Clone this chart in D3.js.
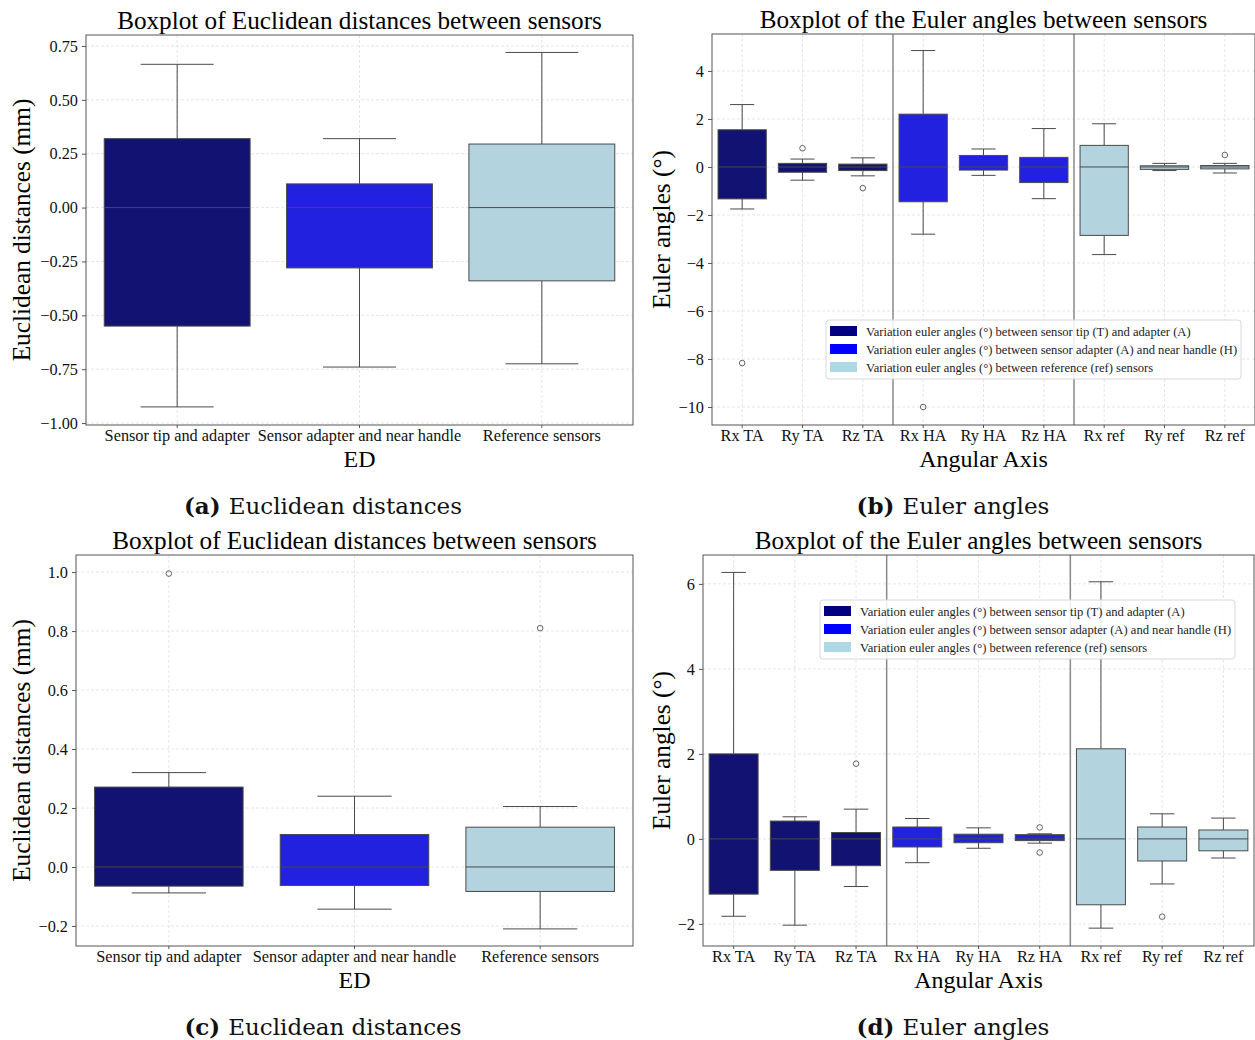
<!DOCTYPE html>
<html>
<head>
<meta charset="utf-8">
<script src="https://cdn.jsdelivr.net/npm/d3@7/dist/d3.min.js"></script>
<style>
  html, body { margin: 0; padding: 0; background: #fff; }
  svg { display: block; font-family: "Liberation Serif", "Times New Roman", serif; }
</style>
</head>
<body>
<svg id="fig" width="1255" height="1040"></svg>
<script>
// ---- Euclidean distances, first session (a) ----
const edCategories = ["Sensor tip and adapter", "Sensor adapter and near handle", "Reference sensors"];
const edA_lo  = [-0.925, -0.74, -0.725];
const edA_q1  = [-0.55, -0.28, -0.34];
const edA_med = [0, 0, 0];
const edA_q3  = [0.32, 0.11, 0.295];
const edA_hi  = [0.665, 0.32, 0.72];
const edA_out = [[], [], []];
const edA_ticks = [0.75, 0.5, 0.25, 0, -0.25, -0.5, -0.75, -1.0];

// ---- Euler angles, first session (b) ----
const angCategories = ["Rx TA", "Ry TA", "Rz TA", "Rx HA", "Ry HA", "Rz HA", "Rx ref", "Ry ref", "Rz ref"];
const angGroup = [0, 0, 0, 1, 1, 1, 2, 2, 2];
const angB_lo  = [-1.75, -0.55, -0.37, -2.8, -0.35, -1.32, -3.65, -0.15, -0.25];
const angB_q1  = [-1.33, -0.22, -0.15, -1.45, -0.13, -0.65, -2.85, -0.1, -0.08];
const angB_med = [0, 0, 0, 0, 0, 0, 0, 0, 0];
const angB_q3  = [1.55, 0.15, 0.12, 2.2, 0.48, 0.4, 0.9, 0.05, 0.06];
const angB_hi  = [2.6, 0.33, 0.38, 4.85, 0.75, 1.6, 1.8, 0.15, 0.15];
const angB_out = [[-8.17], [0.78], [-0.88], [-10.0], [], [], [], [], [0.5]];
const angB_ticks = [4, 2, 0, -2, -4, -6, -8, -10];

// ---- Euclidean distances, second session (c) ----
const edC_lo  = [-0.088, -0.143, -0.21];
const edC_q1  = [-0.065, -0.063, -0.083];
const edC_med = [0, 0, 0];
const edC_q3  = [0.271, 0.11, 0.135];
const edC_hi  = [0.32, 0.24, 0.205];
const edC_out = [[0.995], [], [0.81]];
const edC_ticks = [1.0, 0.8, 0.6, 0.4, 0.2, 0.0, -0.2];

// ---- Euler angles, second session (d) ----
const angD_lo  = [-1.82, -2.03, -1.12, -0.56, -0.22, -0.1, -2.1, -1.06, -0.45];
const angD_q1  = [-1.3, -0.74, -0.63, -0.19, -0.09, -0.04, -1.55, -0.52, -0.28];
const angD_med = [0, 0, 0, 0, 0, 0, 0, 0, 0];
const angD_q3  = [2.0, 0.42, 0.15, 0.28, 0.11, 0.1, 2.12, 0.28, 0.21];
const angD_hi  = [6.27, 0.52, 0.7, 0.48, 0.26, 0.12, 6.05, 0.59, 0.49];
const angD_out = [[], [], [1.77], [], [], [0.27, -0.32], [], [-1.83], []];
const angD_ticks = [6, 4, 2, 0, -2];

// ---- legend ----
const legendLabels = [
  "Variation euler angles (°) between sensor tip (T) and adapter (A)",
  "Variation euler angles (°) between sensor adapter (A) and near handle (H)",
  "Variation euler angles (°) between reference (ref) sensors"
];
const groupFill = ["#121273", "#2121df", "#b3d4de"];
const legendFill = ["#000080", "#0000ff", "#add8e6"];

const captions = [
  { tag: "(a)", text: "Euclidean distances" },
  { tag: "(b)", text: "Euler angles" },
  { tag: "(c)", text: "Euclidean distances" },
  { tag: "(d)", text: "Euler angles" }
];

const svg = d3.select("#fig");
const minus = s => s.replace("-", "\u2212");

function boxPanel(opt) {
  const { x0, x1, y0, y1, domain, ticks, fmt, cats, groups,
          lo, q1, med, q3, hi, out, title, ylabel, xlabel, legend, seps } = opt;
  const g = svg.append("g");
  const x = d3.scaleBand().domain(cats).range([x0, x1]).paddingInner(0).paddingOuter(0);
  const y = d3.scaleLinear().domain(domain).range([y1, y0]);
  const bw = x.bandwidth() * 0.8;

  // grid
  const grid = g.append("g").attr("stroke", "#e0e0e0").attr("stroke-width", 0.8).attr("stroke-dasharray", "3,2");
  grid.selectAll("line.h").data(ticks).join("line")
    .attr("x1", x0).attr("x2", x1).attr("y1", d => y(d)).attr("y2", d => y(d));
  grid.selectAll("line.v").data(cats).join("line")
    .attr("x1", d => x(d) + x.bandwidth() / 2).attr("x2", d => x(d) + x.bandwidth() / 2)
    .attr("y1", y0).attr("y2", y1);

  // group separators
  if (seps) {
    g.selectAll("line.sep").data(seps).join("line")
      .attr("x1", d => x(cats[d])).attr("x2", d => x(cats[d]))
      .attr("y1", y0).attr("y2", y1)
      .attr("stroke", "#8a8a8a").attr("stroke-width", 1.5);
  }

  const items = cats.map((c, i) => ({ c, i, cx: x(c) + x.bandwidth() / 2 }));
  const stroke = "#4a4a4a";
  const bx = g.selectAll("g.box").data(items).join("g");
  // whiskers
  bx.append("line").attr("x1", d => d.cx).attr("x2", d => d.cx)
    .attr("y1", d => y(hi[d.i])).attr("y2", d => y(q3[d.i])).attr("stroke", stroke).attr("stroke-width", 1);
  bx.append("line").attr("x1", d => d.cx).attr("x2", d => d.cx)
    .attr("y1", d => y(q1[d.i])).attr("y2", d => y(lo[d.i])).attr("stroke", stroke).attr("stroke-width", 1);
  // caps
  [hi, lo].forEach(arr => {
    bx.append("line").attr("x1", d => d.cx - bw / 4).attr("x2", d => d.cx + bw / 4)
      .attr("y1", d => y(arr[d.i])).attr("y2", d => y(arr[d.i])).attr("stroke", stroke).attr("stroke-width", 1);
  });
  // box
  bx.append("rect").attr("x", d => d.cx - bw / 2).attr("width", bw)
    .attr("y", d => y(q3[d.i])).attr("height", d => y(q1[d.i]) - y(q3[d.i]))
    .attr("fill", d => groupFill[groups[d.i]]).attr("stroke", stroke).attr("stroke-width", 1);
  // median
  bx.append("line").attr("x1", d => d.cx - bw / 2).attr("x2", d => d.cx + bw / 2)
    .attr("y1", d => y(med[d.i])).attr("y2", d => y(med[d.i])).attr("stroke", stroke).attr("stroke-width", 1);
  // outliers
  bx.selectAll("circle").data(d => out[d.i].map(v => ({ v, cx: d.cx }))).join("circle")
    .attr("cx", d => d.cx).attr("cy", d => y(d.v)).attr("r", 2.8)
    .attr("fill", "none").attr("stroke", "#555").attr("stroke-width", 0.9);

  // axes
  const yAxis = d3.axisLeft(y).tickValues(ticks).tickFormat(d => minus(fmt(d))).tickSize(4).tickPadding(4);
  const ya = g.append("g").attr("transform", `translate(${x0},0)`).call(yAxis);
  ya.attr("font-family", null).attr("font-size", null);
  ya.select(".domain").remove();
  ya.selectAll("line").attr("stroke", "#555");
  ya.selectAll("text").attr("font-size", 16.3).attr("fill", "#111");
  const xAxis = d3.axisBottom(x).tickSize(3).tickPadding(1);
  const xa = g.append("g").attr("transform", `translate(0,${y1})`).call(xAxis);
  xa.attr("font-family", null).attr("font-size", null);
  xa.select(".domain").remove();
  xa.selectAll("line").attr("stroke", "#555");
  xa.selectAll("text").attr("font-size", 16.3).attr("fill", "#111");

  // frame
  g.append("rect").attr("x", x0).attr("y", y0).attr("width", x1 - x0).attr("height", y1 - y0)
    .attr("fill", "none").attr("stroke", "#555").attr("stroke-width", 1);

  // labels
  g.append("text").attr("x", (x0 + x1) / 2).attr("y", y0 - 6).attr("text-anchor", "middle")
    .attr("font-size", 25.2).attr("fill", "#000").text(title);
  g.append("text").attr("transform", `translate(${opt.ylabelX},${(y0 + y1) / 2}) rotate(-90)`)
    .attr("text-anchor", "middle").attr("font-size", 25.3).attr("fill", "#000").text(ylabel);
  g.append("text").attr("x", (x0 + x1) / 2).attr("y", y1 + 42).attr("text-anchor", "middle")
    .attr("font-size", 24).attr("fill", "#000").text(xlabel);

  if (legend) {
    const lg = g.append("g").attr("transform", `translate(${legend.x},${legend.y})`);
    lg.append("rect").attr("width", legend.w).attr("height", 59).attr("rx", 3)
      .attr("fill", "#fff").attr("fill-opacity", 0.85).attr("stroke", "#d8d8d8");
    const row = lg.selectAll("g.row").data(legendLabels).join("g")
      .attr("transform", (d, i) => `translate(4,${6 + i * 18})`);
    row.append("rect").attr("width", 27).attr("height", 10).attr("fill", (d, i) => legendFill[i]);
    row.append("text").attr("x", 36).attr("y", 9.5).attr("font-size", 12.6).attr("fill", "#222").text(d => d);
  }
}

boxPanel({
  x0: 86, x1: 633, y0: 35, y1: 425, domain: [-1.009, 0.801], ticks: edA_ticks, fmt: d3.format(".2f"),
  cats: edCategories, groups: [0, 1, 2], lo: edA_lo, q1: edA_q1, med: edA_med, q3: edA_q3, hi: edA_hi, out: edA_out,
  title: "Boxplot of Euclidean distances between sensors", ylabel: "Euclidean distances (mm)", xlabel: "ED", ylabelX: 30
});
boxPanel({
  x0: 712, x1: 1255, y0: 34, y1: 425, domain: [-10.75, 5.54], ticks: angB_ticks, fmt: d3.format("d"),
  cats: angCategories, groups: angGroup, lo: angB_lo, q1: angB_q1, med: angB_med, q3: angB_q3, hi: angB_hi, out: angB_out,
  title: "Boxplot of the Euler angles between sensors", ylabel: "Euler angles (°)", xlabel: "Angular Axis", ylabelX: 670,
  seps: [3, 6], legend: { x: 826, y: 320, w: 415 }
});
boxPanel({
  x0: 76, x1: 633, y0: 555, y1: 946, domain: [-0.268, 1.058], ticks: edC_ticks, fmt: d3.format(".1f"),
  cats: edCategories, groups: [0, 1, 2], lo: edC_lo, q1: edC_q1, med: edC_med, q3: edC_q3, hi: edC_hi, out: edC_out,
  title: "Boxplot of Euclidean distances between sensors", ylabel: "Euclidean distances (mm)", xlabel: "ED", ylabelX: 30
});
boxPanel({
  x0: 703, x1: 1254, y0: 555, y1: 946, domain: [-2.52, 6.68], ticks: angD_ticks, fmt: d3.format("d"),
  cats: angCategories, groups: angGroup, lo: angD_lo, q1: angD_q1, med: angD_med, q3: angD_q3, hi: angD_hi, out: angD_out,
  title: "Boxplot of the Euler angles between sensors", ylabel: "Euler angles (°)", xlabel: "Angular Axis", ylabelX: 670,
  seps: [3, 6], legend: { x: 820, y: 600, w: 415 }
});

// sub-figure captions
const capPos = [[323, 514], [953, 514], [323, 1035], [953, 1035]];
captions.forEach((c, i) => {
  const t = svg.append("text").attr("x", capPos[i][0]).attr("y", capPos[i][1])
    .attr("text-anchor", "middle").attr("fill", "#111")
    .attr("font-family", "DejaVu Serif, serif").attr("font-size", 23);
  t.append("tspan").attr("font-weight", "bold").text(c.tag + " ");
  t.append("tspan").text(c.text);
});
</script>
</body>
</html>
